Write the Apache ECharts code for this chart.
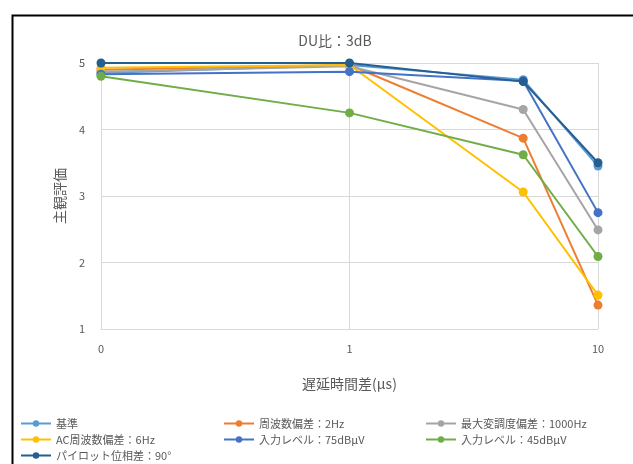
<!DOCTYPE html>
<html>
<head>
<meta charset="utf-8">
<script src="https://cdn.jsdelivr.net/npm/echarts@6/dist/echarts.min.js"></script>
<style>
  html, body { margin: 0; padding: 0; background: #fff; }
  #chart { width: 633px; height: 464px; }
</style>
</head>
<body>
<div id="chart"></div>
<script>
// Delay differences (μs); 0 is placed at the axis origin of the log scale
const delays = [0, 1, 5, 10];
const xTickLabels = { '0.1': '0', '1': '1', '10': '10' };

const seriesNames = [
  '基準',
  '周波数偏差：2Hz',
  '最大変調度偏差：1000Hz',
  'AC周波数偏差：6Hz',
  '入力レベル：75dBμV',
  '入力レベル：45dBμV',
  'パイロット位相差：90°'
];
const seriesColors = ['#5B9BD5', '#ED7D31', '#A5A5A5', '#FFC000', '#4472C4', '#70AD47', '#255E91'];

const kijun      = [4.85, 4.97, 4.75, 3.45];
const freqDev    = [4.90, 4.97, 3.87, 1.36];
const modDev     = [4.87, 4.95, 4.30, 2.49];
const acFreqDev  = [4.93, 4.97, 3.06, 1.51];
const level75    = [4.83, 4.87, 4.73, 2.75];
const level45    = [4.80, 4.25, 3.62, 2.09];
const pilotPhase = [5.00, 5.00, 4.72, 3.50];
const seriesValues = [kijun, freqDev, modDev, acFreqDev, level75, level45, pilotPhase];

const yTicks = { min: 1, max: 5, interval: 1 };

const FONT = '"Noto Sans CJK JP", "Noto Sans", sans-serif';
const TEXT = '#595959';

const axisPos = d => (d === 0 ? 0.1 : d);

// legend: three columns, three rows
const legendCols = [15, 218, 420];
const legendRows = [413, 429, 445];
const legends = seriesNames.map((name, i) => ({
  left: legendCols[i % 3],
  top: legendRows[Math.floor(i / 3)],
  data: [name],
  itemWidth: 30,
  itemHeight: 8,
  itemGap: 4,
  textStyle: { color: TEXT, fontSize: 11, fontFamily: FONT },
  selectedMode: false
}));

const chart = echarts.init(document.getElementById('chart'), null, { renderer: 'canvas' });
chart.setOption({
  animation: false,
  backgroundColor: '#fff',
  title: {
    text: 'DU比：3dB',
    left: 330, top: 29, textAlign: 'center',
    textStyle: { color: TEXT, fontSize: 14, fontWeight: 'normal', fontFamily: FONT }
  },
  graphic: [{
    type: 'rect', left: 10, top: 13, silent: true,
    shape: { width: 660, height: 500 },
    style: { fill: 'none', stroke: '#000', lineWidth: 2 }
  }],
  legend: legends,
  grid: { left: 101, right: 35, top: 63, bottom: 135 },
  xAxis: {
    type: 'log', logBase: 10, min: 0.1, max: 10,
    name: '遅延時間差(μs)', nameLocation: 'middle', nameGap: 48,
    nameTextStyle: { color: TEXT, fontSize: 14, fontFamily: FONT },
    axisLine: { show: true, lineStyle: { color: '#D9D9D9' } },
    axisTick: { show: false },
    minorTick: { show: false },
    splitLine: { show: true, lineStyle: { color: '#D9D9D9' } },
    axisLabel: {
      color: TEXT, fontSize: 11, fontFamily: FONT, margin: 14,
      formatter: v => xTickLabels[String(+v.toPrecision(3))] ?? ''
    }
  },
  yAxis: {
    type: 'value', min: yTicks.min, max: yTicks.max, interval: yTicks.interval,
    name: '主観評価', nameLocation: 'middle', nameGap: 34, nameRotate: 90,
    nameTextStyle: { color: TEXT, fontSize: 14, fontFamily: FONT },
    axisLine: { show: false },
    axisTick: { show: false },
    splitLine: { show: true, lineStyle: { color: '#D9D9D9' } },
    axisLabel: { color: TEXT, fontSize: 11, fontFamily: FONT, margin: 16 }
  },
  series: seriesNames.map((name, i) => ({
    name,
    type: 'line',
    data: delays.map((d, j) => [axisPos(d), seriesValues[i][j]]),
    color: seriesColors[i],
    lineStyle: { width: 2 },
    symbol: 'circle',
    symbolSize: 9,
    z: 2 + i
  }))
});
</script>
</body>
</html>
